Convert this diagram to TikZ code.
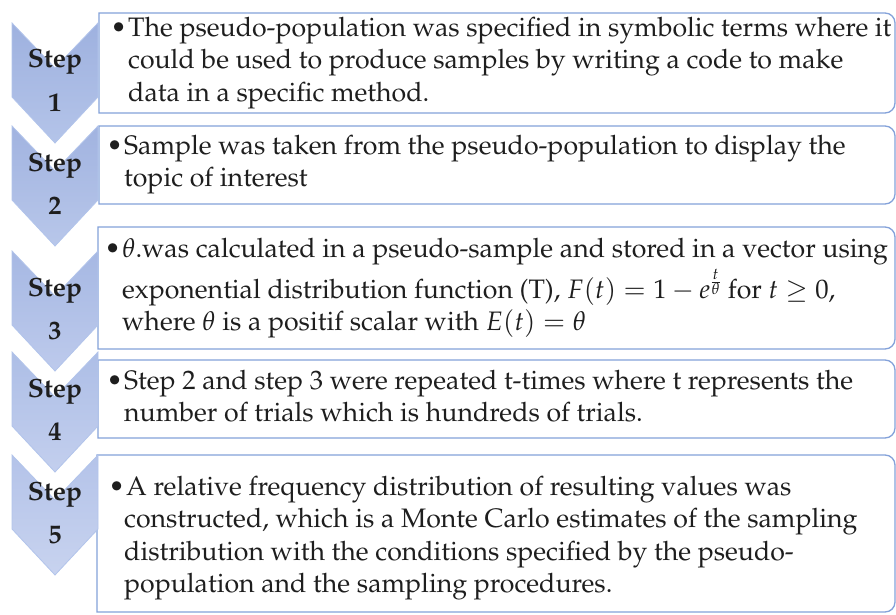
\documentclass[tikz,border=0pt]{standalone}
\usepackage[T1]{fontenc}
\usepackage{mathpazo}
\definecolor{boxcol}{RGB}{132,162,218}
\definecolor{chevline}{RGB}{178,196,235}
\definecolor{txtcol}{RGB}{30,30,30}
\tikzset{
  boxline/.style={draw=boxcol, line width=1.3pt, fill=white},
  chev/.style={draw=chevline, line width=0.8pt},
  txt/.style={anchor=base west, inner sep=0pt, text=txtcol, font=\fontsize{26.7}{32}\selectfont},
  bul/.style={anchor=base east, inner sep=0pt, text=txtcol, font=\fontsize{26.7}{32}\selectfont},
  steplbl/.style={anchor=base, inner sep=0pt, text=txtcol, font=\fontsize{26.4}{32}\selectfont\bfseries},
}
\newcommand\chevron[4]{% top, name, topcolor, bottomcolor
  \path[chev, top color=#3, bottom color=#4]
    (12,#1) -- (55,#1+45) -- (98,#1) -- (98,#1+74) -- (55,#1+120) -- (12,#1+74) -- cycle;
  \node[steplbl] (#2s) at (55,#1+45) {Step};
  \node[steplbl] (#2n) at (55,#1+88) {#2};
}
\newcommand\rbox[4]{% left, top, bottom, name
  \draw[boxline] (#1,#2) -- (885,#2) arc[start angle=-90, end angle=0, radius=10]
    -- (895,#3-10) arc[start angle=0, end angle=90, radius=10] -- (#1,#3) -- cycle;
  \coordinate (#4) at (#1,#2);
}
\begin{document}
\begin{tikzpicture}[x=1pt,y=-1pt]
\useasboundingbox (0,0) rectangle (896,615);
\fill[white] (0,0) rectangle (896,615);
% boxes
\rbox{99}{13}{113}{box1}
\rbox{99}{126}{204}{box2}
\rbox{98}{227}{349}{box3}
\rbox{98}{360}{438}{box4}
\rbox{97}{455}{612}{box5}
% chevrons
\chevron{23}{1}{{rgb,255:red,158;green,177;blue,223}}{{rgb,255:red,180;green,196;blue,233}}
\chevron{126}{2}{{rgb,255:red,161;green,179;blue,224}}{{rgb,255:red,184;green,199;blue,234}}
\chevron{251}{3}{{rgb,255:red,166;green,184;blue,227}}{{rgb,255:red,189;green,202;blue,236}}
\chevron{352}{4}{{rgb,255:red,173;green,190;blue,230}}{{rgb,255:red,195;green,207;blue,238}}
\chevron{455}{5}{{rgb,255:red,180;green,195;blue,233}}{{rgb,255:red,200;green,211;blue,239}}
% box 1
\node[bul] (p1) at (127,37) {\textbullet};
\node[txt] (t1a) at (128,37) {The pseudo-population was specified in symbolic terms where it};
\node[txt] (t1b) at (128,69) {could be used to produce samples by writing a code to make};
\node[txt] (t1c) at (128,102) {data in a specific method.};
% box 2
\node[bul] (p2) at (123,154) {\textbullet};
\node[txt] (t2a) at (124,154) {Sample was taken from the pseudo-population to display the};
\node[txt] (t2b) at (124,186) {topic of interest};
% box 3
\node[bul] (p3) at (121,257) {\textbullet};
\node[txt] (t3a) at (122,257) {$\theta$.was calculated in a pseudo-sample and stored in a vector using};
\node[txt] (t3b) at (122,298) {exponential distribution function (T), $F(t)=1-e^{\frac{t}{\theta}}$ for $t\geq 0$,};
\node[txt] (t3c) at (122,330) {where $\theta$ is a positif scalar with $E(t)=\theta$};
% box 4
\node[bul] (p4) at (123,389) {\textbullet};
\node[txt] (t4a) at (124,389) {Step 2 and step 3 were repeated t-times where t represents the};
\node[txt] (t4b) at (124,421) {number of trials which is hundreds of trials.};
% box 5
\node[bul] (p5) at (125,495) {\textbullet};
\node[txt] (t5a) at (126,495) {A relative frequency distribution of resulting values was};
\node[txt] (t5b) at (124,527) {constructed, which is a Monte Carlo estimates of the sampling};
\node[txt] (t5c) at (124,560) {distribution with the conditions specified by the pseudo-};
\node[txt] (t5d) at (124,592) {population and the sampling procedures.};
\end{tikzpicture}
\end{document}
